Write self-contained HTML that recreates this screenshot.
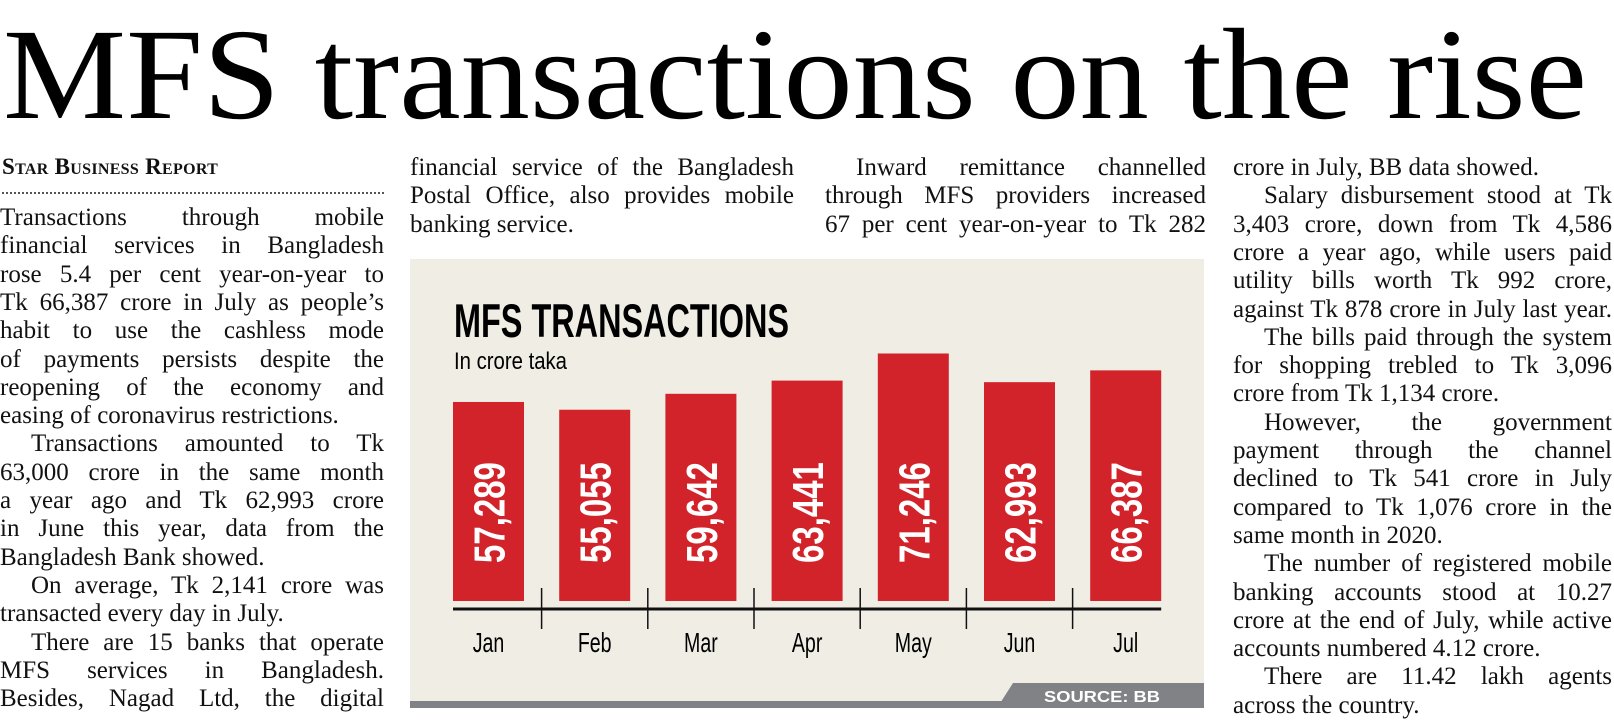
<!DOCTYPE html>
<html>
<head>
<meta charset="utf-8">
<style>
  html,body{margin:0;padding:0;background:#fff;}
  body{width:1614px;height:715px;position:relative;overflow:hidden;font-family:"Liberation Serif",serif;color:#111;}
  .ln{position:absolute;font-family:"Liberation Serif",serif;font-size:25px;line-height:28px;white-space:nowrap;height:28px;}
  .j{text-align:justify;text-align-last:justify;white-space:normal;}
  #byline{position:absolute;left:2px;top:154px;font-family:"Liberation Serif",serif;font-weight:bold;font-variant:small-caps;font-size:23px;letter-spacing:0.3px;}
  #dots{position:absolute;left:2px;top:192px;width:382px;border-top:2px dotted #555;}
  svg{position:absolute;left:0;top:0;}
</style>
</head>
<body>
<svg width="1614" height="715">
  <text x="3" y="118" font-family="Liberation Serif, serif" font-size="130" textLength="1584" lengthAdjust="spacingAndGlyphs" fill="#000">MFS transactions on the rise</text>
  <g id="chart">
    <rect x="410" y="259" width="794" height="449" fill="#f0ede4"/>
    <rect x="410" y="701" width="794" height="7" fill="#808285"/>
    <polygon points="1013,683 1204,683 1204,708 997,708" fill="#808285"/>
    <text x="1044" y="702" font-family="Liberation Sans, sans-serif" font-weight="bold" font-size="16" textLength="116" lengthAdjust="spacingAndGlyphs" fill="#fff">SOURCE: BB</text>
    <text x="454" y="337" font-family="Liberation Sans, sans-serif" font-weight="bold" font-size="47" textLength="335" lengthAdjust="spacingAndGlyphs" fill="#000">MFS TRANSACTIONS</text>
    <text x="454" y="369" font-family="Liberation Sans, sans-serif" font-size="24" textLength="113" lengthAdjust="spacingAndGlyphs" fill="#000">In crore taka</text>
  </g>
</svg>
<div id="byline">Star Business Report</div>
<div id="dots"></div>

<script>
const categories = ["Jan","Feb","Mar","Apr","May","Jun","Jul"];
const values = [57289, 55055, 59642, 63441, 71246, 62993, 66387];
const valueLabels = ["57,289","55,055","59,642","63,441","71,246","62,993","66,387"];

(function(){
  const NS = "http://www.w3.org/2000/svg";
  const chart = document.getElementById("chart");
  const x0 = 453, pitch = 106.2, bw = 71, base = 601, k = 0.003474;
  const xPos = i => x0 + i * pitch;
  const yPos = v => base - v * k;
  const axis = document.createElementNS(NS, "line");
  axis.setAttribute("x1", x0); axis.setAttribute("x2", xPos(categories.length - 1) + bw);
  axis.setAttribute("y1", 609); axis.setAttribute("y2", 609);
  axis.setAttribute("stroke", "#111"); axis.setAttribute("stroke-width", "3");
  
  
  chart.appendChild(axis);
  categories.forEach((c, i) => {
    const bx = xPos(i), cx = bx + bw / 2, top = yPos(values[i]);
    const r = document.createElementNS(NS, "rect");
    r.setAttribute("x", bx); r.setAttribute("y", top);
    r.setAttribute("width", bw); r.setAttribute("height", base - top);
    r.setAttribute("fill", "#d2232b");
    
    
    chart.appendChild(r);
    const t = document.createElementNS(NS, "text");
    t.setAttribute("transform", "translate(" + (cx + 16) + ",563) rotate(-90) scale(0.75,1)");
    t.setAttribute("font-family", "Liberation Sans, sans-serif");
    t.setAttribute("font-weight", "bold");
    t.setAttribute("font-size", "44");
    t.setAttribute("fill", "#fff");
    t.textContent = valueLabels[i];
    
    
    chart.appendChild(t);
    const m = document.createElementNS(NS, "text");
    m.setAttribute("transform", "translate(" + cx + ",652) scale(0.7,1)");
    m.setAttribute("text-anchor", "middle");
    m.setAttribute("font-family", "Liberation Sans, sans-serif");
    m.setAttribute("font-size", "28");
    m.setAttribute("fill", "#000");
    m.textContent = c;
    
    
    chart.appendChild(m);
    if (i > 0) {
      const tk = document.createElementNS(NS, "line");
      const tx = bx - (pitch - bw) / 2;
      tk.setAttribute("x1", tx); tk.setAttribute("x2", tx);
      tk.setAttribute("y1", 588); tk.setAttribute("y2", 629);
      tk.setAttribute("stroke", "#111"); tk.setAttribute("stroke-width", "1.5");
      
      
      chart.appendChild(tk);
    }
  });

  // body text columns: [text, indent, justify]
  const cols = [
    {x:0, w:384, y:225, lines:[
      ["Transactions through mobile",0,1],["financial services in Bangladesh",0,1],
      ["rose 5.4 per cent year-on-year to",0,1],["Tk 66,387 crore in July as people’s",0,1],
      ["habit to use the cashless mode",0,1],["of payments persists despite the",0,1],
      ["reopening of the economy and",0,1],["easing of coronavirus restrictions.",0,0],
      ["Transactions amounted to Tk",1,1],["63,000 crore in the same month",0,1],
      ["a year ago and Tk 62,993 crore",0,1],["in June this year, data from the",0,1],
      ["Bangladesh Bank showed.",0,0],["On average, Tk 2,141 crore was",1,1],
      ["transacted every day in July.",0,0],["There are 15 banks that operate",1,1],
      ["MFS services in Bangladesh.",0,1],["Besides, Nagad Ltd, the digital",0,1]]},
    {x:410, w:384, y:175, lines:[
      ["financial service of the Bangladesh",0,1],["Postal Office, also provides mobile",0,1],
      ["banking service.",0,0]]},
    {x:825, w:381, y:175, lines:[
      ["Inward remittance channelled",1,1],["through MFS providers increased",0,1],
      ["67 per cent year-on-year to Tk 282",0,1]]},
    {x:1233, w:379, y:175, lines:[
      ["crore in July, BB data showed.",0,0],["Salary disbursement stood at Tk",1,1],
      ["3,403 crore, down from Tk 4,586",0,1],["crore a year ago, while users paid",0,1],
      ["utility bills worth Tk 992 crore,",0,1],["against Tk 878 crore in July last year.",0,1],
      ["The bills paid through the system",1,1],["for shopping trebled to Tk 3,096",0,1],
      ["crore from Tk 1,134 crore.",0,0],["However, the government",1,1],
      ["payment through the channel",0,1],["declined to Tk 541 crore in July",0,1],
      ["compared to Tk 1,076 crore in the",0,1],["same month in 2020.",0,0],
      ["The number of registered mobile",1,1],["banking accounts stood at 10.27",0,1],
      ["crore at the end of July, while active",0,1],["accounts numbered 4.12 crore.",0,0],
      ["There are 11.42 lakh agents",1,1],["across the country.",0,0]]}
  ];
  const pitchY = 28.3;
  cols.forEach((col, ci) => {
    col.lines.forEach((ln, li) => {
      const d = document.createElement("div");
      const ind = ln[1] ? 31 : 0;
      d.className = "ln" + (ln[2] ? " j" : "");
      d.style.left = (col.x + ind) + "px";
      d.style.width = (col.w - ind) + "px";
      d.style.top = (col.y + li * pitchY - 21) + "px";
      d.textContent = ln[0];
      
      
      document.body.appendChild(d);
    });
  });
})();
</script>
</body>
</html>
